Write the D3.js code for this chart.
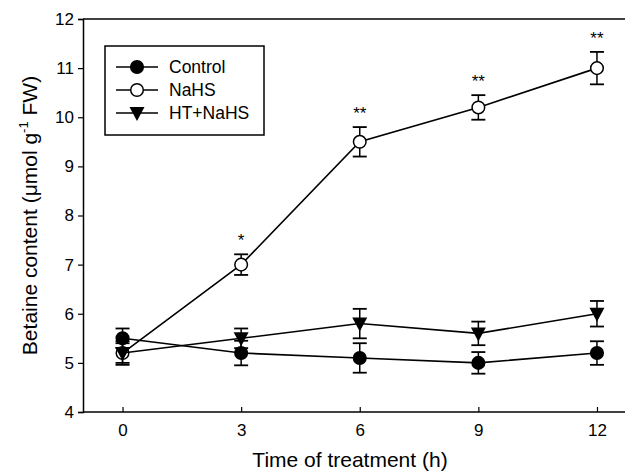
<!DOCTYPE html>
<html>
<head>
<meta charset="utf-8">
<script src="https://cdn.jsdelivr.net/npm/d3@7"></script>
<style>
  body { margin: 0; background: #fff; }
  svg text { font-family: Arial, "Liberation Sans", sans-serif; fill: #000; }
</style>
</head>
<body>
<svg id="chart" width="625" height="471"></svg>
<script>
const hours = [0, 3, 6, 9, 12];
const yTicks = [4, 5, 6, 7, 8, 9, 10, 11, 12];

const controlVals = [5.5, 5.2, 5.1, 5.0, 5.2];
const controlErr = [0.2, 0.25, 0.3, 0.22, 0.24];
const nahsVals = [5.2, 7.0, 9.5, 10.2, 11.0];
const nahsErr = [0.2, 0.21, 0.3, 0.25, 0.33];
const htVals = [5.2, 5.5, 5.8, 5.6, 6.0];
const htErr = [0.24, 0.2, 0.3, 0.24, 0.26];
const signif = ["", "*", "**", "**", "**"];

const series = [
    { name: "NaHS", vals: nahsVals, err: nahsErr, shape: "open" },
    { name: "Control", vals: controlVals, err: controlErr, shape: "dot" },
    { name: "HT+NaHS", vals: htVals, err: htErr, shape: "tri" }
];
const legendOrder = ["Control", "NaHS", "HT+NaHS"];

const svg = d3.select("#chart");
const plotLeft = 83, plotTop = 19, plotBottom = 412;

const x = d3.scaleLinear().domain([-1, 13]).range([plotLeft, 636.5]);
const y = d3.scaleLinear().domain([4, 12]).range([plotBottom, plotTop]);

// frame (right side falls outside the picture)
svg.append("line")
    .attr("x1", plotLeft).attr("x2", 640)
    .attr("y1", plotTop).attr("y2", plotTop)
    .attr("stroke", "#000").attr("stroke-width", 1.5);

// --- axes ---
svg.append("g")
    .attr("transform", `translate(${plotLeft},0)`)
    .call(d3.axisLeft(y).tickValues(yTicks).tickSize(5).tickPadding(4))
    .call(g => g.selectAll("text").attr("font-size", 17))
    .call(g => g.selectAll("line").attr("stroke-width", 1.2))
    .call(g => g.select(".domain").attr("stroke-width", 1.5));

svg.append("g")
    .attr("transform", `translate(0,${plotBottom})`)
    .call(d3.axisBottom(x).tickValues(hours).tickSize(-5).tickPadding(12))
    .call(g => g.select(".domain").remove())
    .call(g => g.selectAll("text").attr("font-size", 17))
    .call(g => g.selectAll("line").attr("stroke-width", 1.2));

svg.append("line")
    .attr("x1", plotLeft).attr("x2", 640)
    .attr("y1", plotBottom).attr("y2", plotBottom)
    .attr("stroke", "#000").attr("stroke-width", 1.5);

// axis titles
svg.append("text")
    .attr("x", 350).attr("y", 467)
    .attr("text-anchor", "middle")
    .attr("font-size", 21)
    .text("Time of treatment (h)");

const yt = svg.append("text")
    .attr("transform", `translate(37,${(plotTop + plotBottom) / 2}) rotate(-90)`)
    .attr("text-anchor", "middle")
    .attr("font-size", 21);
yt.append("tspan").text("Betaine content (\u03bcmol g");
yt.append("tspan").attr("font-size", 13).attr("dy", -9).text("-1");
yt.append("tspan").attr("dy", 9).text(" FW)");

// --- markers ---
function drawMarker(g, shape, cx, cy) {
    if (shape === "tri") {
        const s = 7.5;
        g.append("path")
            .attr("d", `M${cx - s},${cy - 6} L${cx + s},${cy - 6} L${cx},${cy + 8} Z`)
            .attr("fill", "#000");
    } else {
        g.append("circle")
            .attr("cx", cx).attr("cy", cy).attr("r", 6.3)
            .attr("fill", shape === "open" ? "#fff" : "#000")
            .attr("stroke", "#000").attr("stroke-width", 1.5);
    }
}

const line = d3.line()
    .x((d, i) => x(hours[i]))
    .y(d => y(d));

series.forEach(s => {
    const g = svg.append("g");
    g.append("path")
        .datum(s.vals)
        .attr("fill", "none")
        .attr("stroke", "#000")
        .attr("stroke-width", 1.6)
        .attr("d", line);

    s.vals.forEach((v, i) => {
        const cx = x(hours[i]);
        const y1 = y(v + s.err[i]), y2 = y(v - s.err[i]);
        g.append("line").attr("x1", cx).attr("x2", cx).attr("y1", y1).attr("y2", y2)
            .attr("stroke", "#000").attr("stroke-width", 1.5);
        [y1, y2].forEach(yy => {
            g.append("line").attr("x1", cx - 7).attr("x2", cx + 7).attr("y1", yy).attr("y2", yy)
                .attr("stroke", "#000").attr("stroke-width", 1.8);
        });
        drawMarker(g, s.shape, cx, y(v));
    });
});

// significance stars above NaHS
svg.append("g").selectAll("text")
    .data(signif)
    .join("text")
    .attr("x", (d, i) => x(hours[i]))
    .attr("y", (d, i) => y(nahsVals[i] + nahsErr[i]) - 8)
    .attr("text-anchor", "middle")
    .attr("font-size", 17)
    .text(d => d);

// --- legend ---
const lg = svg.append("g");
lg.append("rect")
    .attr("x", 105).attr("y", 46)
    .attr("width", 159).attr("height", 89)
    .attr("fill", "#fff")
    .attr("stroke", "#000").attr("stroke-width", 1.5);

legendOrder.forEach((name, i) => {
    const s = series.find(d => d.name === name);
    const ly = 67 + i * 23;
    lg.append("line").attr("x1", 116).attr("x2", 158).attr("y1", ly).attr("y2", ly)
        .attr("stroke", "#000").attr("stroke-width", 1.5);
    drawMarker(lg, s.shape, 137, ly);
    lg.append("text")
        .attr("x", 169).attr("y", ly + 6)
        .attr("font-size", 17.5)
        .text(name);
});
</script>
</body>
</html>
